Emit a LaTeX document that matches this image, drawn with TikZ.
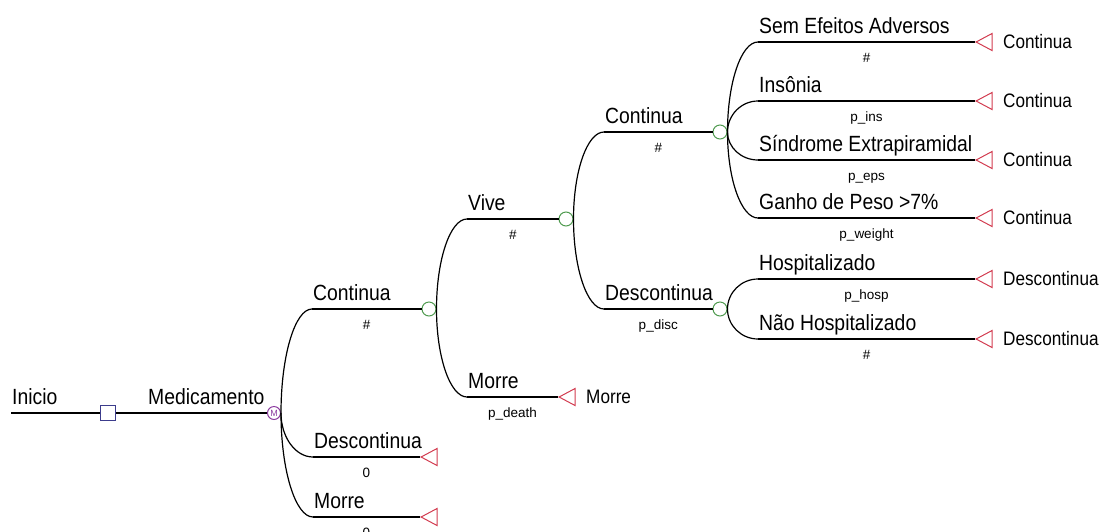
\documentclass[tikz,border=0pt]{standalone}
\usepackage{fontspec}
\setmainfont{Liberation Sans}[FakeStretch=0.88]
\newfontfamily\smallfont{Liberation Sans}
\usetikzlibrary{shapes.geometric,calc}
\definecolor{decblue}{RGB}{60,60,140}
\definecolor{mkvpurple}{RGB}{140,60,160}
\definecolor{chgreen}{RGB}{80,155,80}
\definecolor{termred}{RGB}{210,60,80}
\newcommand\brcurve[2]{\draw[br] (#1.east) .. controls ($(#1.east)!0.55!(#1.east|-#2)$) and ($(#2)!0.55!(#2-|#1.east)$) .. (#2);}
\begin{document}
\begin{tikzpicture}[x=1pt,y=-1pt,
 br/.style={line width=1.2pt, black},
 lab/.style={anchor=base west, inner sep=0, font=\fontsize{22}{24}\selectfont},
 plab/.style={anchor=base, inner sep=0, font=\smallfont\fontsize{13.5}{14}\selectfont},
 tlab/.style={anchor=west, inner sep=0, font=\fontsize{19.5}{22}\selectfont},
 decnode/.style={draw=decblue, rectangle, minimum size=15pt, inner sep=0, line width=1pt, fill=white},
 mkvnode/.style={draw=mkvpurple, circle, minimum size=13pt, inner sep=0, line width=1pt, text=mkvpurple, font=\smallfont\fontsize{9}{9}\selectfont},
 chnode/.style={draw=chgreen, circle, minimum size=14pt, inner sep=0, line width=1pt},
 termnode/.style={draw=termred, isosceles triangle, shape border rotate=180, isosceles triangle apex angle=56, minimum height=16pt, inner sep=0, line width=1pt, anchor=apex},
]
\useasboundingbox (0,0) rectangle (1106,531);

% root
\coordinate (st) at (11,413);
\node[decnode] (dec) at (108,413) {};
\node[mkvnode] (mkv) at (274,413) {M};
\draw[br] (st) -- (dec.west);
\draw[br] (dec.east) -- (mkv.west);
\node[lab] (lIni) at (12,404) {Inicio};
\node[lab] (lMed) at (148,404) {Medicamento};

% level 1
\coordinate (hC1) at (312,309);
\coordinate (hD1) at (313,457);
\coordinate (hM1) at (313,517);
\node[chnode] (c1) at (429,309) {};
\node[termnode] (tD1) at (420,457) {};
\node[termnode] (tM1) at (420,517) {};
\brcurve{mkv}{hC1}
\brcurve{mkv}{hD1}
\brcurve{mkv}{hM1}
\draw[br] (hC1) -- (c1.west);
\draw[br] (hD1) -- (tD1.apex);
\draw[br] (hM1) -- (tM1.apex);
\node[lab] (lC1) at ([shift={(1,-9)}]hC1) {Continua};
\node[lab] (lD1) at ([shift={(1,-9)}]hD1) {Descontinua};
\node[lab] (lM1) at ([shift={(1,-9)}]hM1) {Morre};
\node[plab] (pC1) at ($(hC1)!0.5!(c1.west)+(0,20)$) {\#};
\node[plab] (pD1) at ($(hD1)!0.5!(tD1.apex)+(0,20)$) {0};
\node[plab] (pM1) at ($(hM1)!0.5!(tM1.apex)+(0,20)$) {0};

% level 2
\coordinate (hV) at (467,219);
\coordinate (hM2) at (467,397);
\node[chnode] (cV) at (566,219) {};
\node[termnode] (tM2) at (558,397) {};
\brcurve{c1}{hV}
\brcurve{c1}{hM2}
\draw[br] (hV) -- (cV.west);
\draw[br] (hM2) -- (tM2.apex);
\node[lab] (lV) at ([shift={(1,-9)}]hV) {Vive};
\node[lab] (lM2) at ([shift={(1,-9)}]hM2) {Morre};
\node[plab] (pV) at ($(hV)!0.5!(cV.west)+(0,20)$) {\#};
\node[plab] (pM2) at ($(hM2)!0.5!(tM2.apex)+(0,20)$) {p\_death};
\node[tlab] (xM2) at (586,397) {Morre};

% level 3
\coordinate (hC2) at (604,132);
\coordinate (hD2) at (604,309);
\node[chnode] (cC2) at (720,132) {};
\node[chnode] (cD2) at (720,309) {};
\brcurve{cV}{hC2}
\brcurve{cV}{hD2}
\draw[br] (hC2) -- (cC2.west);
\draw[br] (hD2) -- (cD2.west);
\node[lab] (lC2) at ([shift={(1,-9)}]hC2) {Continua};
\node[lab] (lD2) at ([shift={(1,-9)}]hD2) {Descontinua};
\node[plab] (pC2) at ($(hC2)!0.5!(cC2.west)+(0,20)$) {\#};
\node[plab] (pD2) at ($(hD2)!0.5!(cD2.west)+(0,20)$) {p\_disc};

% level 4 (Continua)
\coordinate (hS) at (758,42);
\coordinate (hI) at (758,101);
\coordinate (hE) at (758,160);
\coordinate (hG) at (758,218);
\node[termnode] (tS) at (975,42) {};
\node[termnode] (tI) at (975,101) {};
\node[termnode] (tE) at (975,160) {};
\node[termnode] (tG) at (975,218) {};
\brcurve{cC2}{hS}
\brcurve{cC2}{hI}
\brcurve{cC2}{hE}
\brcurve{cC2}{hG}
\draw[br] (hS) -- (tS.apex);
\draw[br] (hI) -- (tI.apex);
\draw[br] (hE) -- (tE.apex);
\draw[br] (hG) -- (tG.apex);
\node[lab] (lS) at ([shift={(1,-9)}]hS) {Sem Efeitos Adversos};
\node[lab] (lI) at ([shift={(1,-9)}]hI) {Insônia};
\node[lab] (lE) at ([shift={(1,-9)}]hE) {Síndrome Extrapiramidal};
\node[lab] (lG) at ([shift={(1,-9)}]hG) {Ganho de Peso >7\%};
\node[plab] (pS) at ($(hS)!0.5!(tS.apex)+(0,20)$) {\#};
\node[plab] (pI) at ($(hI)!0.5!(tI.apex)+(0,20)$) {p\_ins};
\node[plab] (pE) at ($(hE)!0.5!(tE.apex)+(0,20)$) {p\_eps};
\node[plab] (pG) at ($(hG)!0.5!(tG.apex)+(0,20)$) {p\_weight};
\node[tlab] (xS) at (1003,42) {Continua};
\node[tlab] (xI) at (1003,101) {Continua};
\node[tlab] (xE) at (1003,160) {Continua};
\node[tlab] (xG) at (1003,218) {Continua};

% level 4 (Descontinua)
\coordinate (hH) at (758,279);
\coordinate (hN) at (758,339);
\node[termnode] (tH) at (975,279) {};
\node[termnode] (tN) at (975,339) {};
\brcurve{cD2}{hH}
\brcurve{cD2}{hN}
\draw[br] (hH) -- (tH.apex);
\draw[br] (hN) -- (tN.apex);
\node[lab] (lH) at ([shift={(1,-9)}]hH) {Hospitalizado};
\node[lab] (lN) at ([shift={(1,-9)}]hN) {Não Hospitalizado};
\node[plab] (pH) at ($(hH)!0.5!(tH.apex)+(0,20)$) {p\_hosp};
\node[plab] (pN) at ($(hN)!0.5!(tN.apex)+(0,20)$) {\#};
\node[tlab] (xH) at (1003,279) {Descontinua};
\node[tlab] (xN) at (1003,339) {Descontinua};
\end{tikzpicture}
\end{document}
